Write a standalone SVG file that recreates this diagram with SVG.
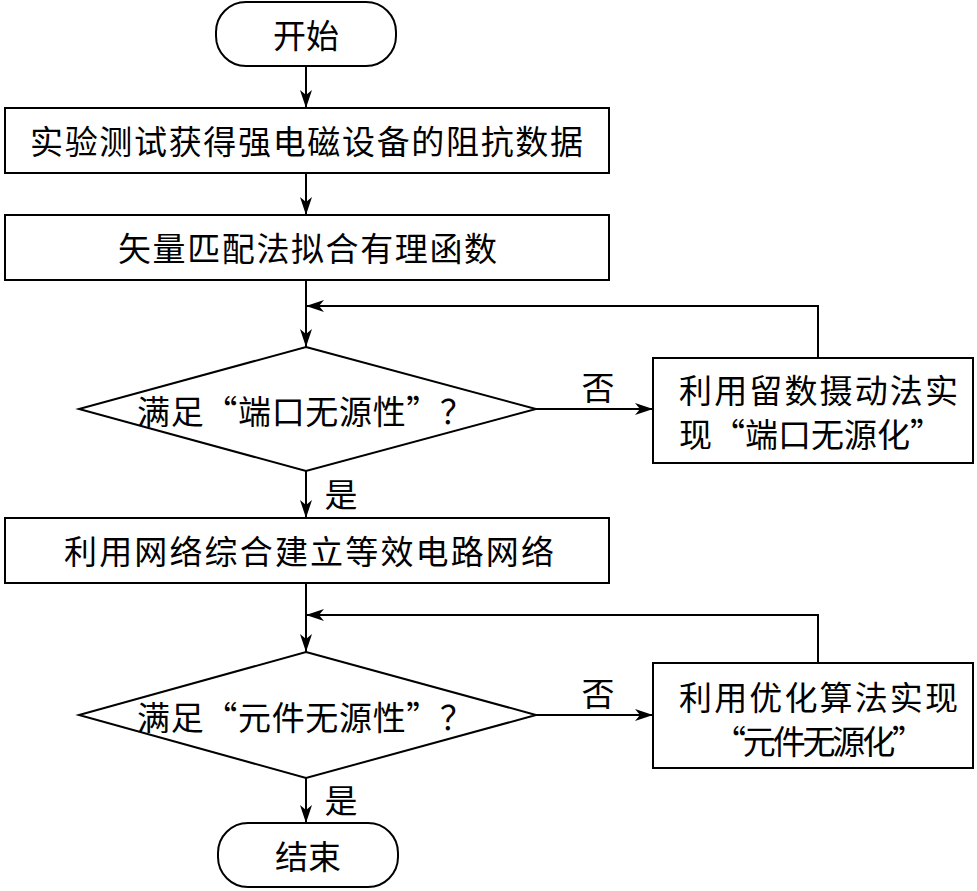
<svg xmlns="http://www.w3.org/2000/svg" width="977" height="891" viewBox="0 0 977 891">
<defs>
<style>
.s{fill:#fff;stroke:#000;stroke-width:2}
.c{fill:none;stroke:#000;stroke-width:2}
text{font-family:"Noto Sans CJK SC","Noto Sans",sans-serif;font-size:33px;fill:#000;dominant-baseline:central}
.m{text-anchor:middle}
</style>
<marker id="a" viewBox="0 0 18 12" refX="18" refY="6" markerWidth="18" markerHeight="12" markerUnits="userSpaceOnUse" orient="auto">
<path d="M0,0 L18,6 L0,12 L5,6 Z" fill="#000"/>
</marker>
</defs>
<rect width="977" height="891" fill="#fff"/>
<g id="connectors">
<line class="c" x1="306" y1="66" x2="306" y2="108" marker-end="url(#a)"/>
<line class="c" x1="306" y1="173" x2="306" y2="215" marker-end="url(#a)"/>
<line class="c" x1="306" y1="280" x2="306" y2="347" marker-end="url(#a)"/>
<polyline class="c" points="818,358 818,306 306,306" marker-end="url(#a)"/>
<line class="c" x1="536" y1="409" x2="653" y2="409" marker-end="url(#a)"/>
<line class="c" x1="306" y1="471" x2="306" y2="518" marker-end="url(#a)"/>
<line class="c" x1="306" y1="583" x2="306" y2="652" marker-end="url(#a)"/>
<polyline class="c" points="818,663 818,615 306,615" marker-end="url(#a)"/>
<line class="c" x1="536" y1="715" x2="653" y2="715" marker-end="url(#a)"/>
<line class="c" x1="306" y1="778" x2="306" y2="823" marker-end="url(#a)"/>
<text class="m" x="598" y="386">否</text>
<text class="m" x="341" y="493">是</text>
<text class="m" x="598" y="692">否</text>
<text class="m" x="341" y="799">是</text>
</g>
<g id="start">
<rect class="s" x="216" y="2" width="180" height="64" rx="30" ry="30"/>
<text class="m" x="306" y="34">开始</text>
</g>
<g id="step1">
<rect class="s" x="5" y="108" width="604" height="65"/>
<text x="30" y="140" textLength="553" lengthAdjust="spacing">实验测试获得强电磁设备的阻抗数据</text>
</g>
<g id="step2">
<rect class="s" x="5" y="215" width="604" height="65"/>
<text x="118" y="247" textLength="379" lengthAdjust="spacing">矢量匹配法拟合有理函数</text>
</g>
<g id="decision1">
<polygon class="s" points="306,347 536,409 306,471 79,409"/>
<text x="137" y="410" textLength="336" lengthAdjust="spacing">满足“端口无源性”？</text>
</g>
<g id="fix1">
<rect class="s" x="653" y="358" width="320" height="105"/>
<text x="679" y="389" textLength="279" lengthAdjust="spacing">利用留数摄动法实</text>
<text x="679" y="433" textLength="264" lengthAdjust="spacing">现“端口无源化”</text>
</g>
<g id="step3">
<rect class="s" x="5" y="518" width="604" height="65"/>
<text x="64" y="550" textLength="490" lengthAdjust="spacing">利用网络综合建立等效电路网络</text>
</g>
<g id="decision2">
<polygon class="s" points="306,652 536,715 306,778 79,715"/>
<text x="137" y="716" textLength="336" lengthAdjust="spacing">满足“元件无源性”？</text>
</g>
<g id="fix2">
<rect class="s" x="653" y="663" width="320" height="105"/>
<text x="679" y="696" textLength="279" lengthAdjust="spacing">利用优化算法实现</text>
<text x="713" y="740" textLength="212" lengthAdjust="spacing">“元件无源化”</text>
</g>
<g id="end">
<rect class="s" x="218" y="823" width="180" height="64" rx="30" ry="30"/>
<text class="m" x="308" y="855">结束</text>
</g>
</svg>
